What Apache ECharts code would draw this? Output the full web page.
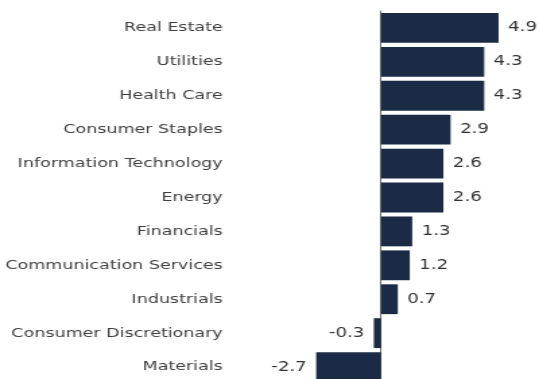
<!DOCTYPE html>
<html>
<head>
<meta charset="utf-8">
<script src="https://cdn.jsdelivr.net/npm/echarts@6/dist/echarts.min.js"></script>
<style>
  html, body { margin: 0; padding: 0; background: #fff; overflow: hidden; }
  /* the chart is drawn on a narrower canvas and widened to 539px, which gives the wide lettering */
  #chart { width: 400px; height: 379px; transform: scaleX(1.3475); transform-origin: 0 0; }
</style>
</head>
<body>
<div id="chart"></div>
<script>
// Sector returns (%), listed top to bottom
const sectors = [
  'Real Estate', 'Utilities', 'Health Care', 'Consumer Staples',
  'Information Technology', 'Energy', 'Financials',
  'Communication Services', 'Industrials', 'Consumer Discretionary', 'Materials'
];
const returns = [4.9, 4.3, 4.3, 2.9, 2.6, 2.6, 1.3, 1.2, 0.7, -0.3, -2.7];

const FONT = '"DejaVu Sans", sans-serif';
const BAR = '#1b2a45';

const chart = echarts.init(document.getElementById('chart'), null, { renderer: 'canvas' });
chart.setOption({
  animation: false,
  backgroundColor: '#ffffff',
  grid: {
    left: 229.3, right: 28.2, top: 11, bottom: -5,
    containLabel: false,
    outerBoundsMode: 'none'
  },
  xAxis: {
    type: 'value',
    min: -3,
    max: 5,
    show: false,
    splitLine: { show: false }
  },
  yAxis: {
    type: 'category',
    inverse: true,
    data: sectors,
    axisLine: { show: true, onZero: true, lineStyle: { color: '#6b6b6b', width: 1 } },
    axisTick: { show: false },
    axisLabel: {
      margin: 64,
      color: '#404040',
      fontFamily: FONT,
      fontSize: 13,
      padding: [4, 0, 0, 0]
    }
  },
  series: [{
    type: 'bar',
    data: returns.map(v => ({
      value: v,
      label: {
        show: true,
        position: v < 0 ? 'left' : 'right',
        distance: 7
      }
    })),
    barCategoryGap: '12%',
    itemStyle: { color: BAR },
    label: {
      color: '#333333',
      fontFamily: FONT,
      fontSize: 13.5,
      formatter: p => p.value.toFixed(1)
    }
  }]
});
</script>
</body>
</html>
